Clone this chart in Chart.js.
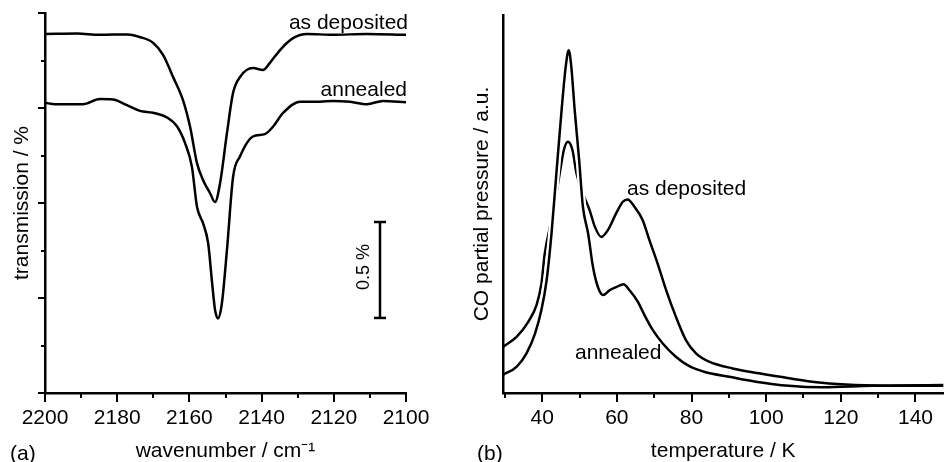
<!DOCTYPE html>
<html>
<head>
<meta charset="utf-8">
<script src="https://cdn.jsdelivr.net/npm/chart.js@4.4.1/dist/chart.umd.min.js"></script>
<style>
  body { margin: 0; background: #fff; }
  #wrap { position: relative; width: 946px; height: 462px; overflow: hidden; font-family: "Liberation Sans", Arial, sans-serif; color: #000; }
  #wrap canvas { position: absolute; left: 0; top: 0; }
  .lbl { position: absolute; font-size: 21px; line-height: 21px; white-space: nowrap; }
</style>
</head>
<body>
<div id="wrap">
  <canvas id="irChart" width="946" height="462"></canvas>
  <canvas id="tdsChart" width="946" height="462"></canvas>
  <div class="lbl" style="right:538px; top:11px;">as deposited</div>
  <div class="lbl" style="right:539px; top:78px;">annealed</div>
  <div class="lbl" style="left:340px; top:258px; font-size:18px; line-height:18px; transform:rotate(-90deg); transform-origin:center;">0.5 %</div>
  <div class="lbl" style="left:627px; top:177px;">as deposited</div>
  <div class="lbl" style="left:575px; top:341px;">annealed</div>
  <div class="lbl" style="left:10px; top:442px;">(a)</div>
  <div class="lbl" style="left:477px; top:442px;">(b)</div>
</div>
<script>
// (a) IR spectra, transmission in arbitrary offset units (2 units = 0.5 %)
const irWaveDeposited = [2200, 2191, 2185, 2177, 2174, 2170, 2167.3, 2164.5, 2161.8, 2159.8, 2157.9, 2156.2, 2154.3, 2152.9, 2151.5, 2149.6, 2147.9, 2146, 2142.4, 2139.6, 2137.7, 2134.9, 2131.3, 2127.4, 2120.2, 2110.8, 2100];
const irDeposited = [7.56, 7.57, 7.54, 7.55, 7.50, 7.37, 7.12, 6.65, 6.17, 5.60, 4.84, 4.48, 4.21, 4.02, 4.42, 5.47, 6.32, 6.65, 6.84, 6.80, 6.95, 7.22, 7.47, 7.56, 7.54, 7.56, 7.54];

const irWaveAnnealed = [2200, 2197.2, 2189.5, 2184.8, 2181.2, 2177.3, 2173.7, 2170.1, 2166.2, 2163.4, 2161.2, 2159.3, 2157.9, 2156.2, 2154.8, 2153.7, 2152.9, 2152.1, 2151.0, 2149.6, 2147.9, 2146.0, 2142.4, 2139.1, 2136.8, 2134.1, 2129.4, 2123.8, 2120.2, 2115.5, 2110.8, 2106.4, 2100];
const irAnnealed = [6.11, 6.08, 6.08, 6.19, 6.18, 6.06, 5.94, 5.90, 5.80, 5.61, 5.26, 4.76, 3.92, 3.57, 3.15, 2.31, 1.75, 1.57, 1.89, 3.01, 4.55, 4.98, 5.40, 5.45, 5.61, 5.89, 6.13, 6.13, 6.15, 6.13, 6.08, 6.15, 6.12];

// scale bar for 0.5 %
const barWave = [2107.2, 2107.2];
const barLevel = [1.58, 3.6];

// (b) TDS traces, CO partial pressure in a.u.
const tdsTempDeposited = [29.5, 33.2, 36.3, 38.5, 39.8, 40.7, 42.9, 44.7, 45.8, 46.9, 48.1, 49.2, 50.9, 52.7, 54.1, 55.8, 57.6, 59.8, 61.6, 62.9, 64.7, 66.9, 68.7, 70.9, 73.2, 75.8, 78.5, 81.2, 84.7, 91.0, 98.1, 106.1, 114.9, 123.8, 137.2, 147.5];
const tdsDeposited = [12.2, 14.9, 18.9, 23.3, 29.0, 37.0, 47.5, 58.1, 64.3, 66.5, 64.3, 58.1, 52.8, 48.4, 44.0, 41.3, 43.1, 47.5, 50.6, 51.2, 49.3, 45.8, 40.5, 34.3, 27.2, 20.2, 14.0, 10.5, 8.3, 6.5, 5.2, 3.9, 2.7, 2.1, 1.9, 1.9];

const tdsTempAnnealed = [29.5, 33.2, 35.8, 38.1, 39.8, 41.2, 42.5, 43.8, 45.2, 46.3, 47.1, 47.8, 48.7, 49.9, 50.9, 52.3, 53.6, 54.9, 56.3, 58.1, 59.8, 61.8, 63.4, 65.6, 67.4, 69.6, 72.3, 75.8, 79.4, 83.8, 90.1, 97.2, 106.1, 114.9, 128.3, 147.5];
const tdsAnnealed = [4.8, 7.0, 10.5, 15.8, 22.0, 29.9, 42.2, 58.1, 74.9, 86.3, 90.7, 86.3, 74.9, 61.6, 49.3, 42.2, 33.4, 28.1, 25.9, 27.2, 28.0, 28.8, 27.2, 24.2, 20.6, 16.7, 13.1, 9.6, 7.1, 5.5, 4.3, 3.0, 1.9, 1.5, 1.9, 2.1];

const FONT = 'Liberation Sans, Arial, sans-serif';
const zip = (xs, ys) => xs.map((x, i) => ({ x: x, y: ys[i] }));

// outward tick marks, long for major ticks and short for minor ones
const tickMarks = {
    id: 'tickMarks',
    afterDraw(chart, args, opts) {
        const ctx = chart.ctx;
        ctx.save();
        ctx.strokeStyle = '#000';
        ctx.lineWidth = 2;
        ['x', 'y'].forEach(id => {
            const o = opts[id];
            const scale = chart.scales[id];
            if (!o || !scale) return;
            scale.ticks.forEach(t => {
                const v = Math.round(t.value);
                const len = v % o.major === 0 ? o.majorLen : o.minorLen;
                const p = Math.round(scale.getPixelForValue(t.value));
                ctx.beginPath();
                if (id === 'x') {
                    ctx.moveTo(p, scale.top);
                    ctx.lineTo(p, scale.top + len);
                } else {
                    ctx.moveTo(scale.right, p);
                    ctx.lineTo(scale.right - len, p);
                }
                ctx.stroke();
            });
        });
        ctx.restore();
    }
};

function curve(data, extra) {
    return Object.assign({
        data: data,
        borderColor: '#000',
        borderWidth: 2.5,
        pointRadius: 0,
        fill: false,
        cubicInterpolationMode: 'monotone'
    }, extra || {});
}

function baseOptions() {
    return {
        responsive: false,
        animation: false,
        events: [],
        plugins: { legend: { display: false }, tooltip: { enabled: false } }
    };
}

// (a)
const irOpts = baseOptions();
irOpts.layout = { padding: { left: 0, top: 13, right: 540, bottom: 0 } };
irOpts.plugins.tickMarks = {
    x: { major: 20, majorLen: 9, minorLen: 5 },
    y: { major: 2, majorLen: 7, minorLen: 4 }
};
irOpts.scales = {
    x: {
        type: 'linear', min: 2100, max: 2200, reverse: true,
        afterFit: s => { s.height = 69; },
        grid: { display: false, drawTicks: false },
        border: { display: true, color: '#000', width: 2.5 },
        ticks: {
            stepSize: 10, autoSkip: false, maxRotation: 0, minRotation: 0, includeBounds: false,
            padding: 13, color: '#000', font: { family: FONT, size: 21 },
            callback: v => (Math.round(v) % 20 === 0 ? String(Math.round(v)) : '')
        },
        title: { display: true, text: 'wavenumber / cm\u207B\u00B9', color: '#000', font: { family: FONT, size: 21, lineHeight: 1 }, padding: { top: 0, bottom: 0 } }
    },
    y: {
        type: 'linear', min: 0, max: 8,
        afterFit: s => { s.width = 45; },
        grid: { display: false, drawTicks: false },
        border: { display: true, color: '#000', width: 2.5 },
        ticks: { stepSize: 1, display: false },
        title: { display: true, text: 'transmission / %', color: '#000', font: { family: FONT, size: 21, lineHeight: 1 }, padding: { top: 12, bottom: 0 } }
    }
};

new Chart(document.getElementById('irChart'), {
    type: 'line',
    data: {
        datasets: [
            curve(zip(irWaveDeposited, irDeposited)),
            curve(zip(irWaveAnnealed, irAnnealed)),
            {
                data: zip(barWave, barLevel),
                borderColor: '#000', borderWidth: 2.5,
                pointStyle: 'line', pointRadius: 6, pointBorderWidth: 2.5, pointBorderColor: '#000'
            }
        ]
    },
    options: irOpts,
    plugins: [tickMarks]
});

// (b)
const haloTemp = tdsTempAnnealed.filter(t => t >= 38 && t <= 56);
const haloLevel = tdsAnnealed.filter((v, i) => tdsTempAnnealed[i] >= 38 && tdsTempAnnealed[i] <= 56);

const tdsOpts = baseOptions();
tdsOpts.layout = { padding: { left: 460, top: 15, right: 0, bottom: 0 } };
tdsOpts.plugins.tickMarks = {
    x: { major: 20, majorLen: 9, minorLen: 5 }
};
tdsOpts.scales = {
    x: {
        type: 'linear', min: 29.5, max: 147.5,
        afterFit: s => { s.height = 69; },
        grid: { display: false, drawTicks: false },
        border: { display: true, color: '#000', width: 2.5 },
        ticks: {
            stepSize: 10, autoSkip: false, maxRotation: 0, minRotation: 0, includeBounds: false,
            padding: 13, color: '#000', font: { family: FONT, size: 21 },
            callback: v => (Math.round(v) % 20 === 0 ? String(Math.round(v)) : '')
        },
        title: { display: true, text: 'temperature / K', color: '#000', font: { family: FONT, size: 21, lineHeight: 1 }, padding: { top: 0, bottom: 0 } }
    },
    y: {
        type: 'linear', min: 0, max: 100,
        afterFit: s => { s.width = 43; },
        grid: { display: false, drawTicks: false },
        border: { display: true, color: '#000', width: 2.5 },
        ticks: { display: false },
        title: { display: true, text: 'CO partial pressure / a.u.', color: '#000', font: { family: FONT, size: 21, lineHeight: 1 }, padding: { top: 12, bottom: 0 } }
    }
};

new Chart(document.getElementById('tdsChart'), {
    type: 'line',
    data: {
        datasets: [
            curve(zip(tdsTempAnnealed, tdsAnnealed), { order: 0 }),
            curve(zip(haloTemp, haloLevel), { order: 1, borderColor: '#fff', borderWidth: 7 }),
            curve(zip(tdsTempDeposited, tdsDeposited), { order: 2 })
        ]
    },
    options: tdsOpts,
    plugins: [tickMarks]
});
</script>
</body>
</html>
